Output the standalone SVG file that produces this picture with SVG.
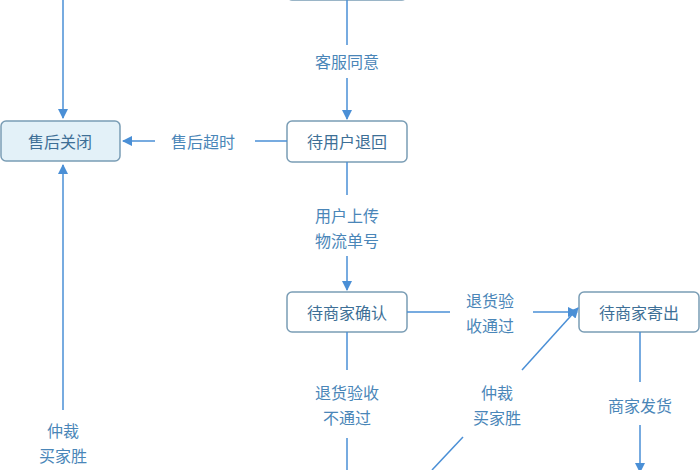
<svg xmlns="http://www.w3.org/2000/svg" width="700" height="470" viewBox="0 0 700 470">
<defs>
<marker id="a" viewBox="0 0 10 10" refX="9" refY="5" markerWidth="7" markerHeight="7" orient="auto"><path d="M0,0L10,5L0,10z" fill="#4a8fd6"/></marker>
<style>
.b{fill:#fff;stroke:#7a9db5;stroke-width:1.5}
.c{fill:#e3f1f8;stroke:#7a9db5;stroke-width:1.5}
.t{font-family:"Noto Sans CJK SC",sans-serif;font-size:16px;fill:#3d6f96;text-anchor:middle;dominant-baseline:central}
.l{font-family:"Noto Sans CJK SC",sans-serif;font-size:16px;fill:#4a86b8;text-anchor:middle;dominant-baseline:central}
.e{stroke:#4a8fd6;stroke-width:1.5;fill:none}
.m{marker-end:url(#a)}
</style>
</defs>
<g id="top"><rect class="b" x="287" y="-20" width="120" height="20" rx="5"/></g>
<g id="n1"><rect class="c" x="1" y="121" width="119" height="40" rx="5"/><text class="t" x="60" y="141">售后关闭</text></g>
<g id="n2"><rect class="b" x="287" y="121" width="120" height="41" rx="5"/><text class="t" x="347" y="141">待用户退回</text></g>
<g id="n3"><rect class="b" x="287" y="292" width="120" height="40" rx="5"/><text class="t" x="347" y="312">待商家确认</text></g>
<g id="n4"><rect class="b" x="579" y="292" width="120" height="40" rx="5"/><text class="t" x="639" y="312">待商家寄出</text></g>
<g id="edges">
<path class="e m" d="M63,0V118"/>
<path class="e" d="M347,0V45"/><path class="e m" d="M347,78V119"/>
<text class="l" x="347" y="61">客服同意</text>
<path class="e" d="M287,141H255"/><path class="e m" d="M155,141H123"/>
<text class="l" x="203" y="141">售后超时</text>
<path class="e" d="M347,162V195"/><path class="e m" d="M347,256V290"/>
<text class="l" x="347" y="215">用户上传</text><text class="l" x="347" y="240">物流单号</text>
<path class="e" d="M407,312H450"/><path class="e m" d="M533,312H577"/>
<text class="l" x="490" y="300">退货验</text><text class="l" x="490" y="325">收通过</text>
<path class="e" d="M640,332V382"/><path class="e m" d="M640,425V472"/>
<text class="l" x="640" y="405">商家发货</text>
<path class="e" d="M347,332V370"/><path class="e" d="M347,438V470"/>
<text class="l" x="347" y="392">退货验收</text><text class="l" x="347" y="417">不通过</text>
<path class="e" d="M432,470L463,437"/><path class="e m" d="M522,370L578,308"/>
<text class="l" x="497" y="392">仲裁</text><text class="l" x="497" y="417">买家胜</text>
<path class="e m" d="M63,410V165"/>
<text class="l" x="63" y="430">仲裁</text><text class="l" x="63" y="455">买家胜</text>
</g>
</svg>
